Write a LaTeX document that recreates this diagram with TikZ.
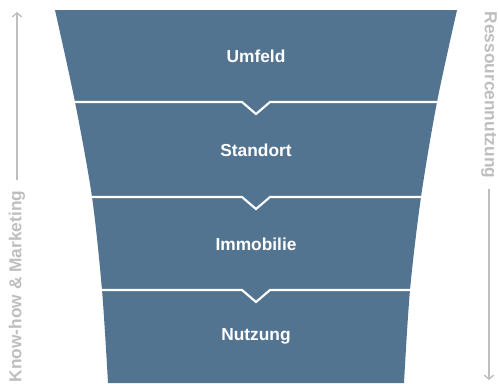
\documentclass[tikz,border=0pt]{standalone}
\usepackage{fontspec}
\setmainfont{Liberation Sans}
\usetikzlibrary{arrows.meta}
\definecolor{funnelblue}{RGB}{82,116,144}
\definecolor{sidegray}{RGB}{190,190,190}

\begin{document}
\begin{tikzpicture}[x=0.75pt,y=-0.75pt,
    band/.style={text=white,inner sep=0pt,font=\bfseries\fontsize{13}{15}\selectfont},
    side/.style={text=sidegray,inner sep=0pt,outer sep=8pt,font=\bfseries\fontsize{13}{15}\selectfont},
    sidearrow/.style={draw=sidegray,line width=1pt,-{Straight Barb[length=3pt,width=7pt]}}]
    \useasboundingbox (0,0) rectangle (498,383);
    \fill[funnelblue] plot[smooth] coordinates {(55,10) (75,102) (92,197) (102,290) (108,383)}
      -- plot[smooth] coordinates {(404,383) (410,290) (421,197) (437,102) (457,10)} -- cycle;
    \foreach \y/\l/\r in {102/75/437, 197/92/421, 290/102/410}{
      \draw[white,line width=1.6pt] (\l,\y) -- (242,\y) -- (256,\y+12) -- (270,\y) -- (\r,\y);
    }
    \foreach \t/\y in {Umfeld/56, Standort/150, Immobilie/244, Nutzung/336}{
      \node[band] (\t) at (256,\y) {\t};
    }
    \node[side,rotate=90,anchor=west] (knowhow) at (17,393) {Know-how \& Marketing};
    \coordinate (knowtip) at (17,12);
    \draw[sidearrow] (knowhow) -- (knowtip);
    \node[side,rotate=-90,anchor=west] (ressourcen) at (489,1) {Ressourcennutzung};
    \coordinate (ressourcentip) at (489,380);
    \draw[sidearrow] (ressourcen) -- (ressourcentip);
\end{tikzpicture}
\end{document}
